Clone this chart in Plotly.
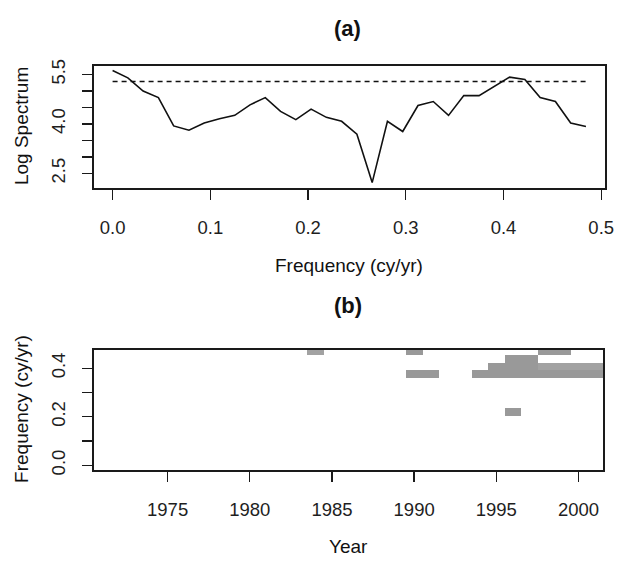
import plotly.graph_objects as go

# ---------------- data ----------------
# Panel (a): log spectrum at Fourier frequencies k/64
freq_a = [k / 64 for k in range(32)]
log_spectrum = [5.62, 5.40, 5.00, 4.80, 3.94, 3.81, 4.03, 4.16, 4.26, 4.58,
                4.80, 4.38, 4.13, 4.45, 4.20, 4.08, 3.69, 2.22, 4.08, 3.77,
                4.56, 4.68, 4.26, 4.86, 4.86, 5.15, 5.42, 5.35, 4.80, 4.68,
                4.03, 3.92]
threshold = 5.29

yticks_a = [2.5, 3.0, 3.5, 4.0, 4.5, 5.0, 5.5]
yticklabels_a = ["2.5", "", "", "4.0", "", "", "5.5"]
xticks_a = [0.0, 0.1, 0.2, 0.3, 0.4, 0.5]
xticklabels_a = ["0.0", "0.1", "0.2", "0.3", "0.4", "0.5"]

# Panel (b): significant cells (year, frequency index k -> k/32, level)
years_b = list(range(1971, 2002))
freq_b = [k / 32 for k in range(16)]
sig_years = [1984, 1990, 1998, 1999,
             1996, 1997,
             1995, 1996, 1997, 1998, 1999, 2000, 2001,
             1990, 1991, 1994, 1995, 1996, 1997, 1998, 1999, 2000, 2001,
             1996]
sig_k = [15, 15, 15, 15,
         14, 14,
         13, 13, 13, 13, 13, 13, 13,
         12, 12, 12, 12, 12, 12, 12, 12, 12, 12,
         7]
sig_level = [2, 1, 1, 1,
             1, 1,
             1, 1, 1, 2, 2, 2, 2,
             1, 1, 1, 1, 1, 1, 1, 1, 1, 1,
             1]

yticks_b = [0.0, 0.1, 0.2, 0.3, 0.4]
yticklabels_b = ["0.0", "", "0.2", "", "0.4"]
xticks_b = [1975, 1980, 1985, 1990, 1995, 2000]
xticklabels_b = ["1975", "1980", "1985", "1990", "1995", "2000"]

# build grid
z = [[0 for _ in years_b] for _ in freq_b]
for yr, k, lv in zip(sig_years, sig_k, sig_level):
    z[k][years_b.index(yr)] = lv

# ---------------- figure ----------------
W, H = 623, 563
FONT = "Liberation Sans, Arial, Helvetica, sans-serif"
FS = 18.5
INK = "#1a1a1a"

def px_x(p):
    return p / W

def px_y(p):
    return 1 - p / H

fig = go.Figure()

fig.add_trace(go.Scatter(x=freq_a, y=log_spectrum, mode="lines",
                         line=dict(color="#111111", width=1.6),
                         xaxis="x", yaxis="y", hoverinfo="skip"))
fig.add_trace(go.Scatter(x=[freq_a[0], freq_a[-1]], y=[threshold, threshold],
                         mode="lines",
                         line=dict(color="#111111", width=1.6, dash="5px,4px"),
                         xaxis="x", yaxis="y", hoverinfo="skip"))

fig.add_trace(go.Heatmap(x=years_b, y=freq_b, z=z, zmin=0, zmax=2,
                         colorscale=[[0, "#ffffff"], [0.5, "#999999"], [1, "#a2a2a2"]],
                         showscale=False, xaxis="x2", yaxis="y2",
                         hoverinfo="skip"))

axis_common = dict(showline=True, linecolor=INK, linewidth=1.6, mirror=True,
                   ticks="outside", ticklen=10, tickwidth=1.4, tickcolor=INK,
                   showgrid=False, zeroline=False,
                   tickfont=dict(family=FONT, size=FS, color="#1e1e1e"))

fig.update_layout(
    width=W, height=H,
    margin=dict(l=0, r=0, t=0, b=0),
    paper_bgcolor="white", plot_bgcolor="white",
    showlegend=False,
    xaxis=dict(domain=[px_x(95), px_x(614)], range=[-0.0194, 0.504],
               tickvals=xticks_a, ticktext=xticklabels_a, anchor="y",
               ticklabelstandoff=12, **axis_common),
    yaxis=dict(domain=[px_y(185), px_y(60)], range=[2.054, 5.767],
               tickvals=yticks_a, ticktext=yticklabels_a, anchor="x",
               tickangle=-90, ticklabelstandoff=10, **axis_common),
    xaxis2=dict(domain=[px_x(95), px_x(612)], range=[1970.5, 2001.5],
                tickvals=xticks_b, ticktext=xticklabels_b, anchor="y2",
                ticklabelstandoff=12, **axis_common),
    yaxis2=dict(domain=[px_y(473), px_y(350)], range=[-0.019, 0.477],
                tickvals=yticks_b, ticktext=yticklabels_b, anchor="x2",
                tickangle=-90, ticklabelstandoff=10, **axis_common),
)

def ann(text, x, y, angle=0, bold=False, size=FS + 0.5):
    fig.add_annotation(text=f"<b>{text}</b>" if bold else text,
                       x=px_x(x), y=px_y(y), xref="paper", yref="paper",
                       xanchor="center", yanchor="middle", showarrow=False,
                       textangle=angle,
                       font=dict(family=FONT, size=size, color="#111111"))

ann("(a)", 353, 22, bold=True, size=22)
ann("Log Spectrum", 22, 122, angle=-90)
ann("Frequency (cy/yr)", 354, 264)
ann("(b)", 353, 305, bold=True, size=22)
ann("Frequency (cy/yr)", 22, 411, angle=-90)
ann("Year", 354, 551)

fig.write_html(
    "out.html",
    config={"displayModeBar": False, "staticPlot": True},
    post_script="document.body.style.margin='0';document.body.style.padding='0';"
                "document.body.style.overflow='hidden';",
)
